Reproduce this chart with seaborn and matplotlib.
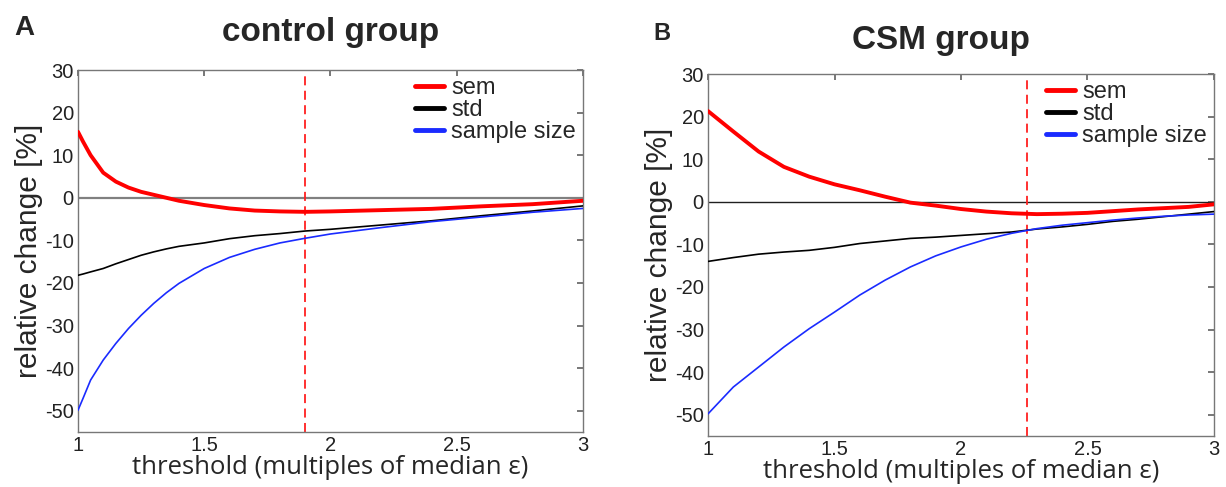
import numpy as np
import pandas as pd
import matplotlib
matplotlib.use("Agg")
import matplotlib.pyplot as plt
import seaborn as sns

# ---- data ----
thr_a = [1.0, 1.02, 1.05, 1.1, 1.15, 1.2, 1.25, 1.3, 1.35, 1.4, 1.5, 1.6, 1.7, 1.8, 1.9, 2.0, 2.2, 2.4, 2.6, 2.8, 3.0]
ctrl_sem = [15.5, 13.2, 10.0, 5.9, 3.8, 2.4, 1.4, 0.7, 0.0, -0.7, -1.7, -2.5, -3.0, -3.2, -3.3, -3.2, -2.9, -2.6, -2.0, -1.5, -0.7]
ctrl_std = [-18.2, -17.9, -17.4, -16.6, -15.5, -14.5, -13.5, -12.7, -12.0, -11.4, -10.6, -9.6, -8.9, -8.4, -7.8, -7.4, -6.4, -5.4, -4.2, -3.1, -1.9]
ctrl_n = [-49.9, -47.1, -42.8, -38.1, -34.2, -30.7, -27.6, -24.8, -22.3, -20.1, -16.6, -14.0, -12.1, -10.6, -9.5, -8.5, -7.0, -5.6, -4.5, -3.4, -2.5]

thr_b = [1.0, 1.1, 1.2, 1.3, 1.4, 1.5, 1.6, 1.7, 1.8, 1.9, 2.0, 2.1, 2.2, 2.3, 2.4, 2.5, 2.6, 2.7, 2.8, 2.9, 3.0]
csm_sem = [21.3, 16.5, 11.8, 8.2, 5.9, 4.1, 2.7, 1.2, -0.2, -0.9, -1.7, -2.3, -2.7, -2.9, -2.8, -2.6, -2.2, -1.8, -1.5, -1.2, -0.6]
csm_std = [-14.0, -13.1, -12.3, -11.8, -11.4, -10.7, -9.8, -9.2, -8.6, -8.3, -7.9, -7.5, -7.1, -6.4, -5.9, -5.3, -4.6, -4.1, -3.5, -2.9, -2.3]
csm_n = [-49.8, -43.5, -38.8, -34.1, -29.8, -25.9, -21.9, -18.4, -15.3, -12.7, -10.6, -8.8, -7.4, -6.3, -5.5, -4.9, -4.3, -3.8, -3.4, -3.1, -2.9]

series_names = ["sem", "std", "sample size"]
ctrl_cut = 1.9
csm_cut = 2.26
titles = ["control group", "CSM group"]
letters = ["A", "B"]
xticks = [1, 1.5, 2, 2.5, 3]
xticklabels = ["1", "1.5", "2", "2.5", "3"]
yticks = [-50, -40, -30, -20, -10, 0, 10, 20, 30]

sns.set_theme(style="white")
plt.rcParams['font.family'] = ['Liberation Sans', 'DejaVu Sans']


def long_df(x, sem, std, n):
    rows = []
    for name, vals in zip(series_names, [sem, std, n]):
        for xi, v in zip(x, vals):
            rows.append({"threshold": xi, "value": v, "measure": name})
    return pd.DataFrame(rows)


palette = {"sem": "#ff0000", "std": "#000000", "sample size": "#1a2bff"}
widths = {"sem": 2.8, "std": 1.2, "sample size": 1.2}

fig = plt.figure(figsize=(12.26, 4.87), dpi=100)
axA = fig.add_axes([0.0636, 0.1129, 0.4119, 0.7433])
axB = fig.add_axes([0.5775, 0.1047, 0.4127, 0.7433])

datasets = [(thr_a, ctrl_sem, ctrl_std, ctrl_n, ctrl_cut),
            (thr_b, csm_sem, csm_std, csm_n, csm_cut)]
zero_styles = [("#808080", 1.6), ("#202020", 1.0)]
title_x = [0.5, 0.46]
title_pad = [21, 18]

for i, (ax, (x, s, d, n, cut)) in enumerate(zip([axA, axB], datasets)):
    df = long_df(x, s, d, n)
    ax.axhline(0, color=zero_styles[i][0], lw=zero_styles[i][1], zorder=1)
    ax.axvline(cut, color="#ff2020", lw=1.3, ls=(0, (5, 3)), zorder=1)
    for name in series_names:
        sub = df[df["measure"] == name]
        sns.lineplot(data=sub, x="threshold", y="value", ax=ax, color=palette[name],
                     lw=widths[name], label=name, zorder=3)
    ax.set_xlim(1, 3)
    ax.set_ylim(-55, 30)
    ax.set_xticks(xticks)
    ax.set_xticklabels(xticklabels)
    ax.set_yticks(yticks)
    ax.set_yticklabels([str(t) for t in yticks])
    ax.tick_params(direction="in", length=4, top=True, right=True, labelsize=14.5,
                   color="#666666", labelcolor="#222222", pad=3)
    for sp in ax.spines.values():
        sp.set_color("#777777")
        sp.set_linewidth(1.0)
    ax.set_xlabel("threshold (multiples of median ε)", fontsize=18.5,
                  family=["Open Sans", "DejaVu Sans"], labelpad=0)
    ax.set_ylabel("relative change [%]", fontsize=21.5, labelpad=1)
    ax.set_title(titles[i], fontsize=24, fontweight="bold", pad=title_pad[i], x=title_x[i])
    leg = ax.legend(loc="upper right", frameon=False, fontsize=17, handlelength=1.25,
                    handletextpad=0.3, labelspacing=0.0, borderaxespad=0.1,
                    borderpad=0.2)
    for line in leg.get_lines():
        line.set_linewidth(3.5)

fig.text(0.012, 0.928, letters[0], fontsize=20, fontweight="bold")
fig.text(0.533, 0.918, letters[1], fontsize=17, fontweight="bold")

fig.savefig("out.png", dpi=100)
